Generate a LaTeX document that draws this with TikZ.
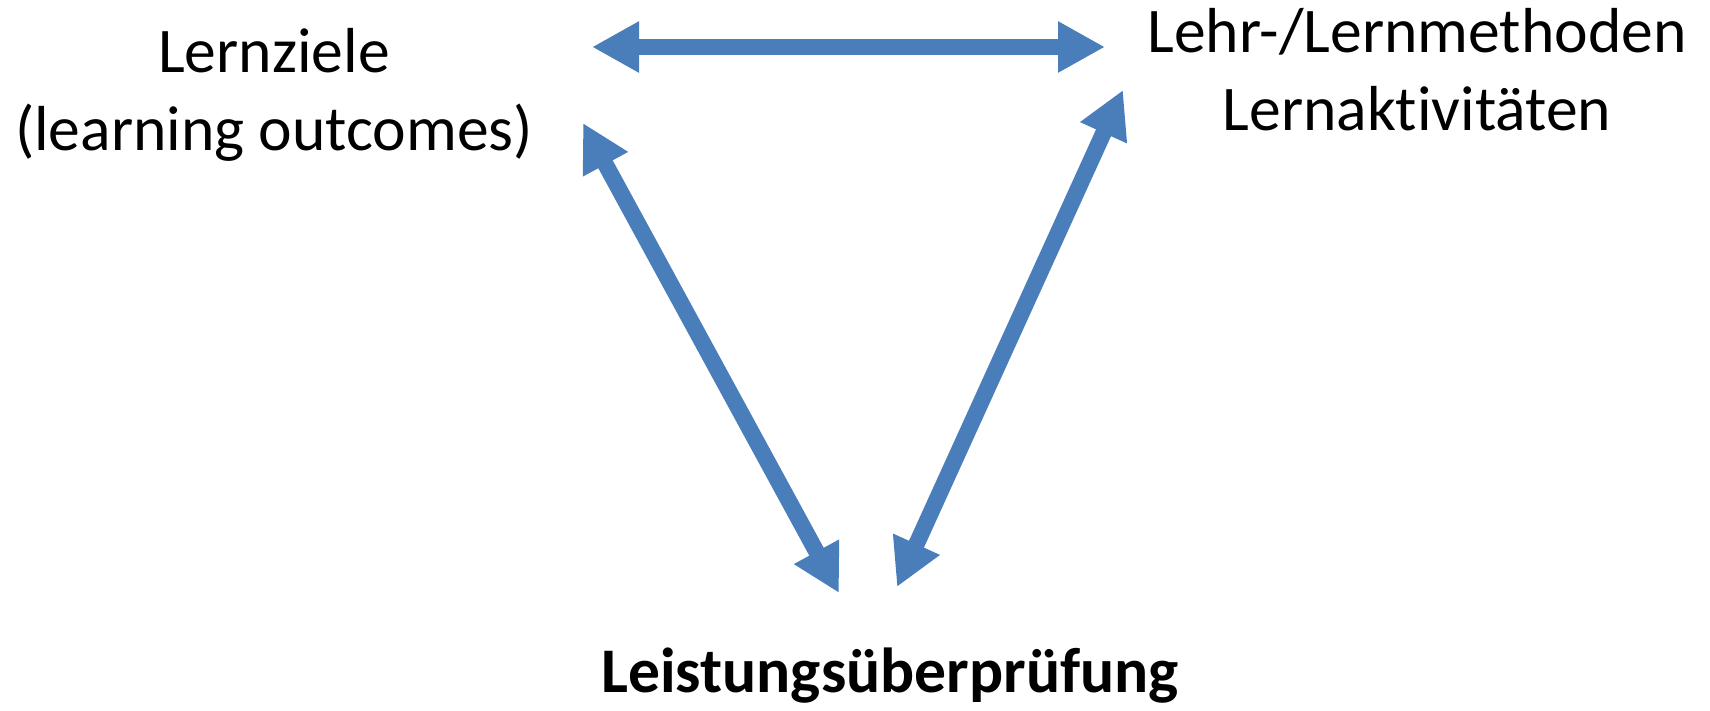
\documentclass[tikz,border=0pt]{standalone}
\usepackage{fontspec}
\setmainfont{Carlito}[Ligatures=CommonOff]
\usetikzlibrary{arrows.meta}
\definecolor{arrowblue}{RGB}{74,126,187}
\begin{document}
\begin{tikzpicture}[x=0.5pt,y=-0.5pt,
  txt/.style={inner sep=0pt, align=center, anchor=base, text=black,
    font=\fontsize{31.8}{39}\selectfont},
  biarrow/.style={draw=arrowblue, line width=8.2pt,
    {Triangle[length=23.5pt,width=24pt]}-{Triangle[length=23.5pt,width=24pt]}}]
\fill[white] (0,0) rectangle (1710,711);
\useasboundingbox (0,0) rectangle (1710,711);
\node[txt] (ziele) at (274,151) {Lernziele\\(learning outcomes)};
\node[txt] (methoden) at (1417,131) {Lehr-/Lernmethoden\\Lernaktivitäten};
\node[txt, font=\bfseries\fontsize{31.8}{39}\selectfont] (pruefung) at (890,692) {Leistungsüberprüfung};
\coordinate (zA) at (592,47);
\coordinate (mA) at (1105,47);
\coordinate (zB) at (583,123);
\coordinate (pB) at (839,593);
\coordinate (mC) at (1123,90);
\coordinate (pC) at (897,587);
\draw[biarrow] (zA) -- (mA);
\draw[biarrow] (zB) -- (pB);
\draw[biarrow] (mC) -- (pC);
\end{tikzpicture}
\end{document}
